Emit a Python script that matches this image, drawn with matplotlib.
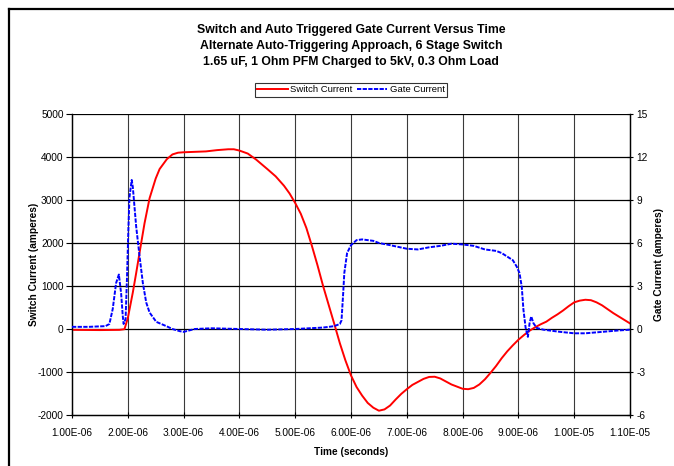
import matplotlib
matplotlib.use("Agg")
import matplotlib.pyplot as plt
from matplotlib.lines import Line2D
from matplotlib.ticker import FuncFormatter, MultipleLocator

plt.rcParams['font.family'] = ['Liberation Sans', 'DejaVu Sans']
plt.rcParams['axes.unicode_minus'] = False

# ---- data (time in microseconds) ----
switch_t = [1.0, 1.5, 1.85, 1.94, 2.0, 2.09, 2.15, 2.21, 2.3, 2.39, 2.5, 2.57, 2.7, 2.8, 2.9,
            3.0, 3.2, 3.4, 3.6, 3.8, 3.9, 4.0, 4.15, 4.3, 4.5, 4.65, 4.8, 4.9, 5.0, 5.1, 5.2,
            5.3, 5.4, 5.5, 5.6, 5.7, 5.8, 5.9, 6.0, 6.1, 6.2, 6.3, 6.4, 6.5, 6.6, 6.7, 6.8,
            6.9, 7.0, 7.1, 7.2, 7.3, 7.4, 7.5, 7.6, 7.7, 7.8, 7.9, 8.0, 8.1, 8.2, 8.3, 8.4,
            8.5, 8.6, 8.7, 8.8, 8.9, 9.0, 9.1, 9.2, 9.3, 9.4, 9.5, 9.6, 9.7, 9.8, 9.9, 10.0,
            10.1, 10.2, 10.3, 10.4, 10.5, 10.6, 10.7, 10.8, 10.9, 11.0]
switch_a = [-20, -25, -20, -5, 250, 850, 1300, 1770, 2460, 3040, 3500, 3720, 3950, 4060, 4100,
            4110, 4120, 4130, 4160, 4180, 4180, 4150, 4080, 3940, 3720, 3550, 3330, 3150, 2930, 2680, 2350,
            1930, 1480, 1000, 560, 120, -330, -730, -1080, -1350, -1550, -1720, -1830, -1900, -1870, -1780, -1640,
            -1510, -1400, -1300, -1230, -1160, -1115, -1110, -1150, -1220, -1290, -1340, -1390, -1400, -1370, -1290, -1170,
            -1020, -860, -680, -520, -380, -250, -140, -40, 40, 110, 170, 260, 340, 430, 530, 620,
            660, 680, 670, 620, 550, 460, 370, 290, 210, 130]

gate_t = [1.0, 1.3, 1.6, 1.67, 1.73, 1.79, 1.84, 1.88, 1.91, 1.925, 1.96, 1.985, 2.01, 2.03, 2.07,
          2.09, 2.15, 2.21, 2.27, 2.33, 2.39, 2.51, 2.69, 2.8, 2.93, 3.0, 3.1, 3.2, 3.5, 4.0,
          4.5, 5.0, 5.5, 5.7, 5.8, 5.83, 5.86, 5.88, 5.93, 6.0, 6.1, 6.2, 6.4, 6.5, 6.7,
          7.0, 7.2, 7.4, 7.6, 7.8, 8.0, 8.2, 8.4, 8.6, 8.7, 8.8, 8.9, 8.97, 9.02, 9.06,
          9.09, 9.13, 9.17, 9.2, 9.23, 9.27, 9.33, 9.45, 9.75, 10.0, 10.2, 10.5, 10.8, 11.0]
gate_a = [0.15, 0.15, 0.2, 0.35, 1.4, 3.2, 3.8, 2.5, 0.9, 0.35, 0.7, 3.5, 6.9, 9.2, 10.4,
          9.9, 7.15, 5.1, 3.2, 1.85, 1.15, 0.5, 0.2, 0.0, -0.15, -0.2, -0.1, 0.0, 0.05, 0.0,
          -0.05, 0.0, 0.1, 0.2, 0.35, 0.6, 2.5, 3.9, 5.3, 5.85, 6.2, 6.25, 6.15, 6.0, 5.85,
          5.6, 5.55, 5.7, 5.8, 5.95, 5.9, 5.8, 5.55, 5.45, 5.3, 5.05, 4.8, 4.35, 3.9, 2.95,
          1.35, 0.07, -0.55, 0.4, 0.88, 0.4, 0.07, -0.05, -0.2, -0.3, -0.3, -0.2, -0.1, -0.05]

title_lines = ["Switch and Auto Triggered Gate Current Versus Time",
               "Alternate Auto-Triggering Approach, 6 Stage Switch",
               "1.65 uF, 1 Ohm PFM Charged to 5kV, 0.3 Ohm Load"]

W, H = 674, 466
fig = plt.figure(figsize=(W / 100, H / 100), dpi=100)
fig.patch.set_facecolor('white')

L, R, T, B = 72, 630, 114, 415
ax = fig.add_axes([L / W, 1 - B / H, (R - L) / W, (B - T) / H])
ax2 = ax.twinx()

xs = [t * 1e-6 for t in switch_t]
xg = [t * 1e-6 for t in gate_t]

ax.set_xlim(1e-6, 1.1e-5)
ax.set_ylim(-2000, 5000)
ax2.set_ylim(-6, 15)

ax.xaxis.set_major_locator(MultipleLocator(1e-6))
ax.yaxis.set_major_locator(MultipleLocator(1000))
ax2.yaxis.set_major_locator(MultipleLocator(3))
for x in [i * 1e-6 for i in range(2, 11)]:
    ax.axvline(x, color='#3a3a3a', lw=0.8, zorder=0)
for y in range(-1000, 5001, 1000):
    ax.axhline(y, color='black', lw=0.9, zorder=0)

l1, = ax.plot(xs, switch_a, color='#ff0000', lw=1.4, zorder=3)
l2, = ax2.plot(xg, gate_a, color='#0000ff', lw=1.4, dashes=(2.2, 0.7), zorder=3)

ax.xaxis.set_major_formatter(FuncFormatter(lambda v, p: '{:.2E}'.format(v)))

for a in (ax, ax2):
    for s in a.spines.values():
        s.set_linewidth(0.9)
        s.set_color('black')
    a.spines['top'].set_visible(False)

ax.tick_params(axis='y', direction='out', length=4, width=0.8, labelsize=7.3, pad=2)
ax.tick_params(axis='x', direction='inout', length=4, width=0.8, labelsize=7.3, pad=7)
ax2.tick_params(axis='y', direction='inout', length=5, width=0.8, labelsize=7.3, pad=2)

ax.set_xlabel('Time (seconds)', fontsize=7.3, fontweight='bold')
ax.xaxis.set_label_coords(0.5, -(447 - B) / (B - T))
ax.set_ylabel('Switch Current (amperes)', fontsize=7.3, fontweight='bold')
ax.yaxis.set_label_coords((39 - L) / (R - L), 0.5)
ax2.set_ylabel('Gate Current (amperes)', fontsize=7.3, fontweight='bold')
ax2.yaxis.set_label_coords((654 - L) / (R - L), 0.5)

cx = (L + R) / 2 / W
for i, line in enumerate(title_lines):
    fig.text(cx, 1 - (30 + 16 * i) / H, line, ha='center', va='center',
             fontsize=8.8, fontweight='bold')

leg = fig.legend([l1, l2], ['Switch Current', 'Gate Current'], loc='center',
                 bbox_to_anchor=(cx, 1 - 90 / H), ncol=2, fontsize=6.8,
                 frameon=True, fancybox=False, edgecolor='black', handlelength=3.2,
                 handletextpad=0.3, columnspacing=0.4, borderpad=0.3)
leg.get_frame().set_linewidth(0.8)

# chart frame (left and top edges)
fig.add_artist(Line2D([8.5 / W, 8.5 / W], [0, 1 - 8.5 / H], color='black', lw=1.6,
                      transform=fig.transFigure))
fig.add_artist(Line2D([8.5 / W, 1], [1 - 8.5 / H, 1 - 8.5 / H], color='black', lw=1.6,
                      transform=fig.transFigure))

fig.savefig('out.png', dpi=100)
